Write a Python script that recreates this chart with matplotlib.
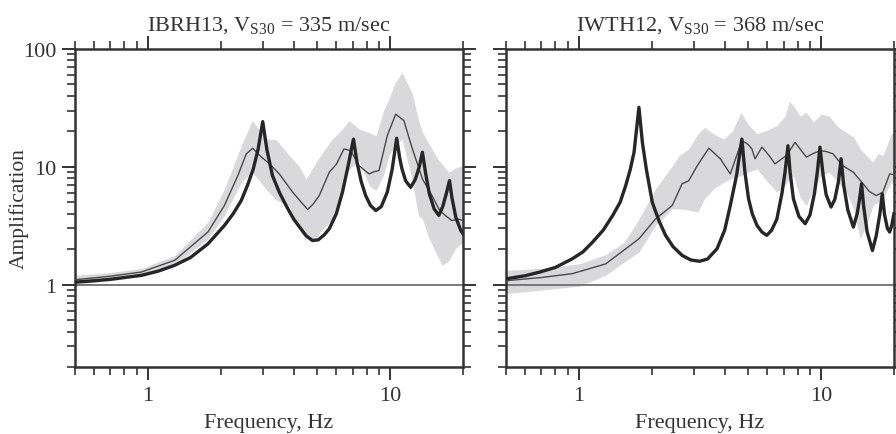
import matplotlib
matplotlib.use("Agg")
import matplotlib.pyplot as plt
from matplotlib.ticker import FixedLocator, NullFormatter, FixedFormatter

plt.rcParams["font.family"] = ["Liberation Serif", "DejaVu Serif"]
plt.rcParams["mathtext.fontset"] = "custom"
plt.rcParams["mathtext.rm"] = "Liberation Serif"
plt.rcParams["mathtext.it"] = "Liberation Serif:italic"

# ---- IBRH13 (left panel) ----
ibrh_title = r"IBRH13, V$_{\mathrm{S30}}$ = 335 m/sec"
ibrh_band_f = [0.5, 0.7, 0.94, 1.29, 1.77, 2.07, 2.43, 2.7, 3.07, 3.39, 3.83, 4.2, 4.5,
               4.95, 5.3, 5.77, 6.36, 6.76, 7.45, 8.2, 8.75, 9.4, 9.9, 10.5, 11.2,
               12.3, 13.1, 13.6, 14.5, 14.9, 15.6, 16.4, 17.5, 18.6, 20.0]
ibrh_band_hi = [1.2, 1.27, 1.37, 1.77, 3.4, 6.5, 15.1, 24.7, 17.2, 17.0, 12.5, 10.2, 7.9,
                11.0, 13.5, 17.2, 21.0, 24.7, 21.0, 19.5, 18.4, 30.0, 37.7, 52.0, 63.0,
                43.0, 25.0, 19.7, 15.5, 14.2, 12.0, 10.5, 9.0, 9.8, 10.2]
ibrh_band_lo = [1.0, 1.08, 1.17, 1.46, 2.45, 3.87, 7.4, 9.0, 6.5, 5.2, 4.7, 3.0, 2.45,
                2.5, 3.0, 3.6, 6.9, 9.5, 11.3, 6.9, 6.3, 8.5, 12.5, 15.0, 17.2,
                7.9, 3.87, 3.6, 2.45, 2.2, 1.8, 1.46, 1.6, 2.02, 2.3]
ibrh_obs_f = [0.5, 0.7, 0.94, 1.29, 1.77, 2.07, 2.35, 2.55, 2.71, 2.89, 3.18, 3.49,
              3.96, 4.3, 4.57, 4.8, 5.1, 5.61, 6.0, 6.45, 6.88, 7.45, 8.19, 8.6, 9.0,
              9.74, 10.55, 11.4, 12.3, 13.6, 14.9, 16.0, 16.9, 18.0, 19.2, 20.0]
ibrh_obs = [1.1, 1.18, 1.28, 1.61, 2.8, 4.7, 8.4, 12.9, 14.4, 12.5, 10.6, 8.7,
            6.1, 5.0, 4.35, 4.8, 5.7, 9.0, 10.5, 14.2, 13.7, 10.2, 8.7, 9.1, 9.3,
            18.4, 28.0, 24.7, 14.7, 7.9, 5.7, 4.3, 3.87, 3.5, 3.6, 3.5]
ibrh_th_f = [0.5, 0.6, 0.7, 0.8, 0.94, 1.1, 1.29, 1.5, 1.77, 2.07, 2.25, 2.43, 2.58,
             2.72, 2.85, 2.98, 3.1, 3.27, 3.5, 3.72, 4.0, 4.22, 4.5, 4.78, 5.05,
             5.35, 5.61, 6.0, 6.36, 6.7, 7.06, 7.3, 7.6, 7.93, 8.3, 8.74, 9.2,
             9.74, 10.2, 10.65, 10.95, 11.2, 11.6, 12.17, 12.7, 13.2, 13.6, 14.0,
             14.5, 15.2, 15.9, 16.5, 17.1, 17.6, 18.0, 18.7, 19.6, 20.0]
ibrh_th = [1.05, 1.08, 1.11, 1.15, 1.2, 1.3, 1.46, 1.7, 2.22, 3.18, 4.0, 5.18, 7.0,
           9.5, 14.0, 24.2, 14.0, 8.4, 6.0, 4.7, 3.6, 3.1, 2.6, 2.37, 2.4,
           2.65, 2.98, 4.0, 6.1, 10.0, 17.2, 11.0, 7.5, 5.7, 4.7, 4.26, 4.6,
           6.1, 9.5, 17.5, 12.0, 9.6, 7.6, 6.7, 7.8, 10.0, 13.3, 9.0,
           6.0, 4.4, 3.87, 4.6, 6.0, 7.66, 5.5, 3.7, 2.88, 2.7]

# ---- IWTH12 (right panel) ----
iwth_title = r"IWTH12, V$_{\mathrm{S30}}$ = 368 m/sec"
iwth_band_f = [0.5, 0.7, 1.0, 1.29, 1.54, 1.77, 2.07, 2.43, 2.6, 2.84, 3.1, 3.3, 3.6,
               3.96, 4.3, 4.67, 5.0, 5.44, 6.0, 6.57, 7.1, 7.4, 7.69, 8.2, 8.7, 9.3,
               10.0, 10.8, 11.7, 12.7, 13.6, 14.5, 15.4, 16.4, 17.2, 18.0, 19.5, 20.0]
iwth_band_hi = [1.32, 1.38, 1.5, 1.8, 2.3, 3.6, 6.5, 10.2, 12.5, 14.2, 19.0, 21.7, 19.0,
                17.2, 20.0, 29.0, 23.0, 19.1, 20.5, 22.4, 27.0, 36.0, 33.0, 27.0, 29.0,
                24.0, 28.0, 27.0, 22.0, 19.6, 18.0, 14.2, 12.5, 11.0, 13.0, 12.5, 19.0,
                19.5]
iwth_band_lo = [0.84, 0.9, 0.97, 1.2, 1.56, 1.89, 3.18, 4.4, 4.4, 4.3, 4.13, 5.35, 6.5,
                7.4, 8.0, 8.4, 9.0, 9.6, 7.5, 6.1, 7.0, 8.0, 8.4, 5.5, 4.7, 6.5,
                8.5, 9.0, 7.5, 6.1, 4.5, 2.45, 3.2, 4.7, 5.0, 5.35, 7.4, 7.6]
iwth_obs_f = [0.5, 0.7, 0.94, 1.29, 1.77, 2.07, 2.43, 2.67, 2.84, 3.08, 3.44, 3.84,
              4.22, 4.71, 5.0, 5.18, 5.34, 5.7, 6.1, 6.45, 7.2, 7.81, 8.7, 9.3, 9.9,
              10.5, 11.2, 12.3, 13.6, 14.9, 15.8, 16.9, 18.0, 19.2, 20.0]
iwth_obs = [1.08, 1.15, 1.24, 1.5, 2.45, 3.6, 4.7, 7.2, 7.6, 10.2, 14.4, 11.7,
            8.7, 16.7, 15.5, 14.2, 11.7, 14.7, 12.5, 10.6, 12.5, 16.1, 12.1, 13.0, 13.7,
            13.5, 12.9, 10.2, 9.0, 7.2, 6.2, 5.7, 6.1, 8.7, 8.6]
iwth_th_f = [0.5, 0.6, 0.69, 0.8, 0.94, 1.04, 1.14, 1.26, 1.38, 1.48, 1.56, 1.63,
             1.69, 1.77, 1.83, 1.9, 2.01, 2.14, 2.28, 2.45, 2.67, 2.9, 3.15, 3.4,
             3.72, 4.0, 4.22, 4.48, 4.71, 4.85, 5.02, 5.2, 5.44, 5.7, 5.97, 6.25,
             6.57, 6.9, 7.1, 7.3, 7.45, 7.69, 8.1, 8.6, 9.0, 9.4, 9.65, 9.9, 10.2,
             10.5, 11.0, 11.4, 11.8, 12.1, 12.4, 12.9, 13.6, 14.1, 14.4, 14.7, 15.0,
             15.5, 16.3, 16.9, 17.5, 17.9, 18.3, 18.8, 19.2, 19.6, 20.0]
iwth_th = [1.12, 1.19, 1.28, 1.4, 1.66, 1.9, 2.3, 2.9, 3.87, 5.0, 6.9, 9.5,
           13.3, 32.0, 16.0, 9.5, 5.0, 3.5, 2.62, 2.1, 1.77, 1.62, 1.58, 1.65,
           2.02, 2.9, 4.7, 8.5, 17.2, 9.0, 5.35, 4.0, 3.18, 2.8, 2.62, 2.9,
           3.6, 6.0, 9.0, 15.1, 9.0, 5.35, 3.8, 3.29, 3.9, 6.0, 9.0, 14.7, 8.5,
           5.8, 4.56, 5.3, 7.5, 11.7, 7.0, 4.3, 3.08, 4.0, 5.2, 7.2, 4.6,
           2.8, 1.95, 2.6, 4.0, 5.9, 3.9, 3.0, 2.8, 3.2, 4.0]

PANELS = [
    (ibrh_title, ibrh_band_f, ibrh_band_lo, ibrh_band_hi, ibrh_obs_f, ibrh_obs,
     ibrh_th_f, ibrh_th),
    (iwth_title, iwth_band_f, iwth_band_lo, iwth_band_hi, iwth_obs_f, iwth_obs,
     iwth_th_f, iwth_th),
]

X_MINOR = [0.5, 0.6, 0.7, 0.8, 0.9, 2, 3, 4, 5, 6, 7, 8, 9, 20]
Y_MINOR = [0.2, 0.3, 0.4, 0.5, 0.6, 0.7, 0.8, 0.9, 2, 3, 4, 5, 6, 7, 8, 9,
           20, 30, 40, 50, 60, 70, 80, 90]

SPINE = "#333333"
TXT = "#333333"

fig = plt.figure(figsize=(8.96, 4.35), dpi=100)
rects = [[0.0837, 0.154, 0.433, 0.731], [0.5647, 0.154, 0.433, 0.731]]

for i, (rect, panel) in enumerate(zip(rects, PANELS)):
    title, bf, blo, bhi, of, ob, tf, th = panel
    ax = fig.add_axes(rect)
    ax.set_xscale("log")
    ax.set_yscale("log")
    ax.fill_between(bf, blo, bhi, color="#d9d9db", linewidth=0, zorder=1)
    ax.axhline(1.0, color="#707070", linewidth=1.3, zorder=2)
    ax.plot(of, ob, color="#4a4a4a", linewidth=1.0, zorder=3)
    ax.plot(tf, th, color="#262626", linewidth=2.4, zorder=4)
    ax.set_xlim(0.5, 20)
    ax.set_ylim(0.2, 100)

    ax.xaxis.set_major_locator(FixedLocator([1, 10]))
    ax.xaxis.set_major_formatter(FixedFormatter(["1", "10"]))
    ax.xaxis.set_minor_locator(FixedLocator(X_MINOR))
    ax.xaxis.set_minor_formatter(NullFormatter())
    ax.yaxis.set_major_locator(FixedLocator([1, 10, 100]))
    ax.yaxis.set_minor_locator(FixedLocator(Y_MINOR))
    ax.yaxis.set_minor_formatter(NullFormatter())
    if i == 0:
        ax.yaxis.set_major_formatter(FixedFormatter(["1", "10", "100"]))
        ax.set_ylabel("Amplification", fontsize=15.5, color=TXT)
        ax.yaxis.set_label_coords(-0.118, 0.5)
    else:
        ax.yaxis.set_major_formatter(NullFormatter())

    ax.tick_params(which="both", direction="out", top=True, right=True,
                   color=SPINE, labelcolor=TXT, labelsize=16)
    ax.tick_params(which="major", length=9.5, width=1.4, pad=4)
    ax.tick_params(which="minor", length=5.5, width=1.2)
    for s in ax.spines.values():
        s.set_color(SPINE)
        s.set_linewidth(1.8)

    ax.set_xlabel("Frequency, Hz", fontsize=16, color=TXT, labelpad=6)
    ax.set_title(title, fontsize=16, color=TXT, pad=14)

fig.savefig("out.png", dpi=100)
